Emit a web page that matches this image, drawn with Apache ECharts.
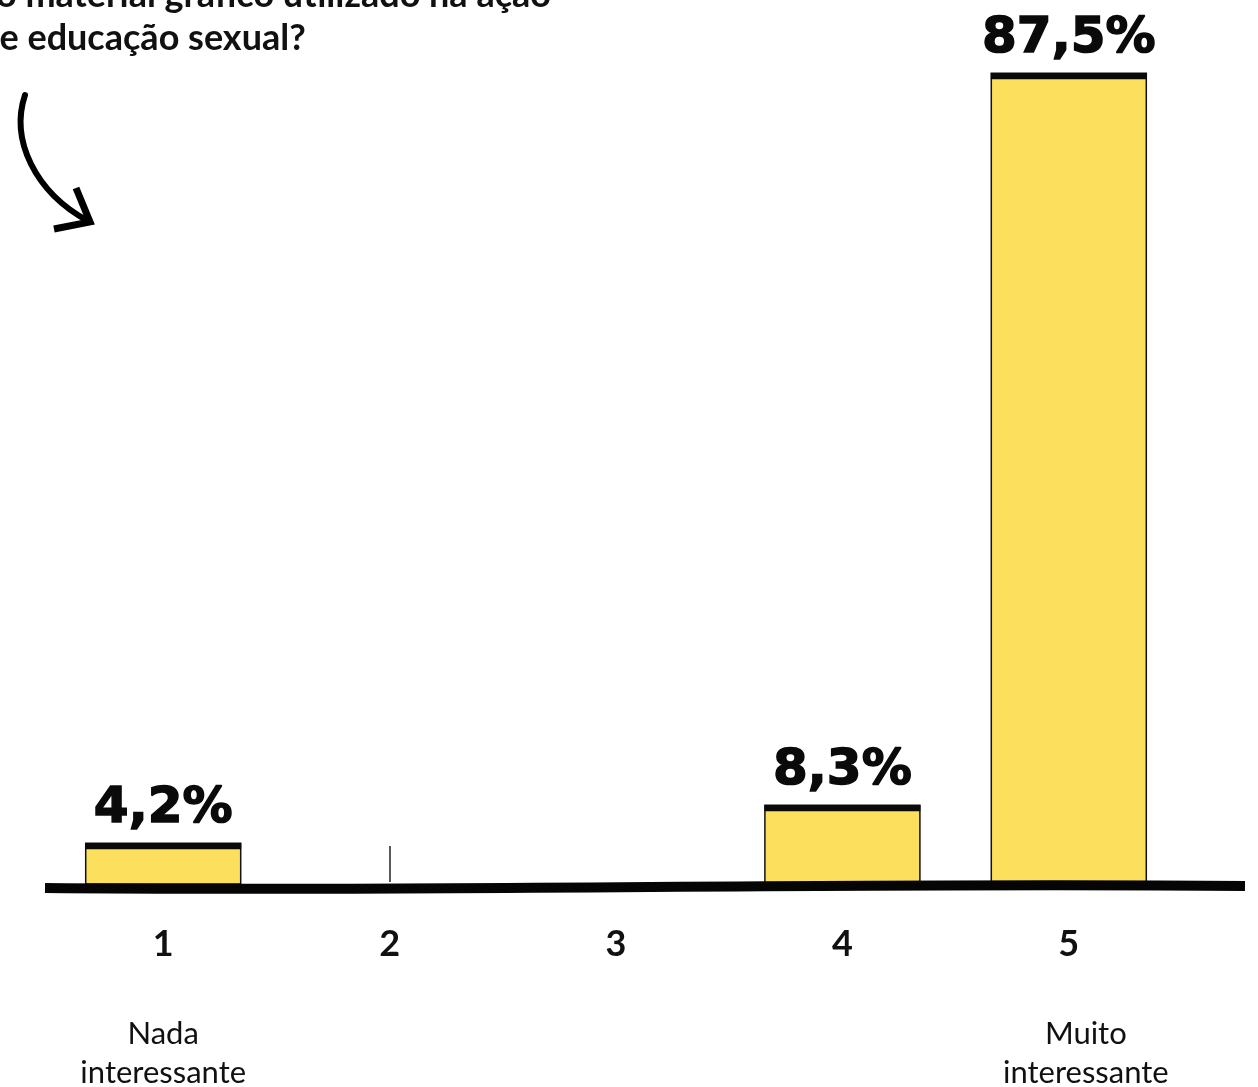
<!DOCTYPE html>
<html>
<head>
<meta charset="utf-8">
<script src="https://cdn.jsdelivr.net/npm/echarts@6/dist/echarts.min.js"></script>
<style>
html,body{margin:0;padding:0;background:#fff;}
#chart{width:1258px;height:1087px;}
</style>
</head>
<body>
<div id="chart"></div>
<script>
const categories = ["1", "2", "3", "4", "5"];
const values = [4.2, 0, 0, 8.3, 87.5];
const subLabels = ["Nada\ninteressante", "", "", "", "Muito\ninteressante"];
const titleLines = ["o material gráfico utilizado na ação", "de educação sexual?"];

const chart = echarts.init(document.getElementById('chart'));
const fmt = v => v.toFixed(1).replace('.', ',') + '%';

chart.setOption({
  backgroundColor: '#ffffff',
  animation: false,
  grid: { left: 50, right: 76, top: 4, bottom: 205, outerBoundsMode: 'none', containLabel: false },
  xAxis: [
    {
      type: 'category', data: categories, boundaryGap: true,
      axisLine: { show: false }, axisTick: { show: false },
      axisLabel: { margin: 44, fontFamily: 'Lato', fontWeight: 'bold', fontSize: 36, color: '#111' }
    },
    {
      type: 'category', data: subLabels, position: 'bottom', boundaryGap: true,
      axisLine: { show: false }, axisTick: { show: false },
      axisLabel: {
        margin: 132, fontFamily: 'Lato', fontSize: 31, lineHeight: 39, color: '#111', interval: 0,
        formatter: function (val, idx) {
          if (!val) return '';
          const tag = idx === categories.length - 1 ? 'r' : 'l';
          return val.split('\n').map(s => '{' + tag + '|' + s + '}').join('\n');
        },
        rich: {
          l: { fontFamily: 'Lato', fontSize: 31, lineHeight: 39, color: '#111' },
          r: { fontFamily: 'Lato', fontSize: 31, lineHeight: 39, color: '#111', padding: [0, 0, 0, 34] }
        }
      }
    }
  ],
  yAxis: { type: 'value', min: 0, max: 95, show: false, splitLine: { show: false } },
  series: [{
    type: 'custom',
    data: values.map((v, i) => [i, v]),
    renderItem: function (params, api) {
      const idx = api.value(0), v = api.value(1);
      if (!v) return null;
      const top = api.coord([idx, v]);
      const base = api.coord([idx, 0]);
      const w = 155;
      const x = top[0] - w / 2;
      return {
        type: 'group',
        children: [
          { type: 'rect', shape: { x: x, y: top[1], width: w, height: base[1] - top[1] + 2 },
            style: { fill: '#FCDF5D', stroke: '#111', lineWidth: 1.5 } },
          { type: 'rect', shape: { x: x - 0.5, y: top[1], width: w + 1, height: 6 },
            style: { fill: '#0a0a0a' } },
          { type: 'text', x: top[0], y: top[1] - 9,
            style: { text: fmt(v), fontFamily: 'DejaVu Sans', fontWeight: 'bold', fontSize: 50,
                     fill: '#0a0a0a', stroke: '#0a0a0a', lineWidth: 1.5,
                     align: 'center', verticalAlign: 'bottom' } }
        ]
      };
    },
    markLine: {
      silent: true, symbol: 'none', label: { show: false },
      lineStyle: { color: '#222', width: 1.5, type: 'solid' },
      data: [[{ xAxis: '2', yAxis: 0 }, { xAxis: '2', yAxis: 3.9 }]]
    }
  }],
  graphic: [
    { type: 'bezierCurve', z: 100,
      shape: { x1: 45, y1: 888, x2: 1245, y2: 886, cpx1: 450, cpy1: 892, cpx2: 850, cpy2: 882 },
      style: { stroke: '#050505', lineWidth: 10, fill: null } },
    { type: 'text', left: -4, top: -23, z: 100,
      style: { text: titleLines[0], fontFamily: 'Lato', fontWeight: 'bold', fontSize: 36, fill: '#111' } },
    { type: 'text', left: -21, top: 20, z: 100,
      style: { text: titleLines[1], fontFamily: 'Lato', fontWeight: 'bold', fontSize: 36, fill: '#111' } },
    { type: 'bezierCurve', z: 100,
      shape: { x1: 25, y1: 95, x2: 88, y2: 221, cpx1: 10, cpy1: 140, cpx2: 35, cpy2: 192 },
      style: { stroke: '#000', lineWidth: 6, fill: null, lineCap: 'round' } },
    { type: 'polyline', z: 100,
      shape: { points: [[54, 229], [90, 222], [76, 188]] },
      style: { stroke: '#000', lineWidth: 7, fill: null, lineCap: 'butt', lineJoin: 'miter' } }
  ]
});
</script>
</body>
</html>
